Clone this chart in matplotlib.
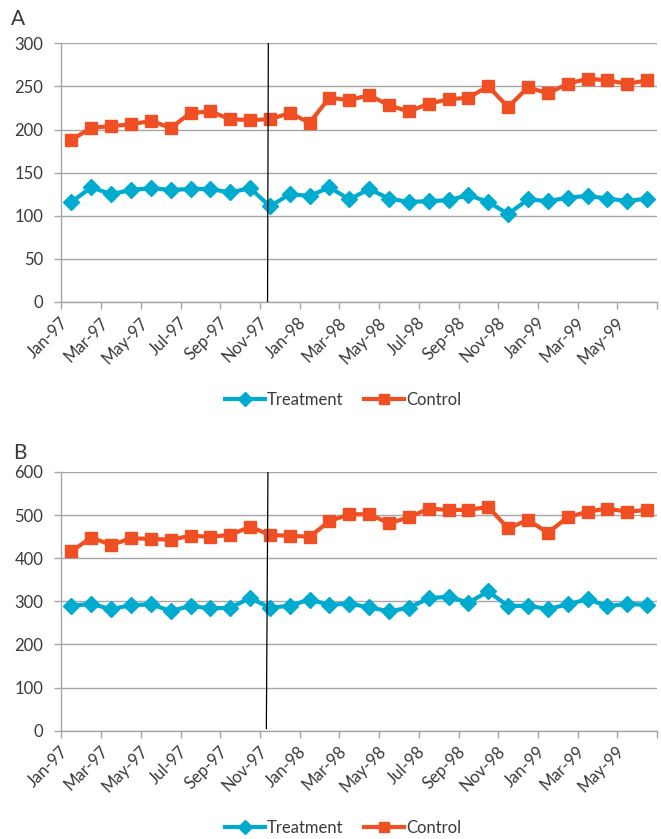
import matplotlib
matplotlib.use("Agg")
import matplotlib.pyplot as plt
import numpy as np

plt.rcParams['font.family'] = ['Lato', 'DejaVu Sans']

months = ["Jan-97", "Feb-97", "Mar-97", "Apr-97", "May-97", "Jun-97", "Jul-97", "Aug-97",
          "Sep-97", "Oct-97", "Nov-97", "Dec-97", "Jan-98", "Feb-98", "Mar-98", "Apr-98",
          "May-98", "Jun-98", "Jul-98", "Aug-98", "Sep-98", "Oct-98", "Nov-98", "Dec-98",
          "Jan-99", "Feb-99", "Mar-99", "Apr-99", "May-99", "Jun-99"]

treatment_a = [116, 133, 125, 130, 132, 130, 131, 131, 127, 132, 111, 125, 123, 133, 119,
               131, 120, 116, 117, 118, 124, 116, 102, 119, 117, 121, 123, 120, 117, 120]
control_a = [188, 202, 204, 206, 210, 202, 219, 221, 212, 211, 212, 219, 208, 237, 234,
             240, 228, 221, 230, 235, 237, 250, 226, 249, 242, 253, 259, 257, 253, 257]

treatment_b = [290, 294, 282, 291, 293, 278, 289, 284, 285, 308, 285, 290, 304, 292, 295,
               286, 277, 285, 307, 311, 297, 323, 289, 290, 282, 293, 305, 289, 294, 292]
control_b = [416, 448, 431, 446, 445, 443, 452, 450, 454, 473, 454, 452, 450, 486, 502,
             502, 481, 495, 515, 512, 512, 519, 469, 489, 459, 495, 508, 515, 508, 512]

panels = [
    ("A", treatment_a, control_a, 300, 50, (10.42, 10.38), (0, 300)),
    ("B", treatment_b, control_b, 600, 100, (10.40, 10.32), (5, 600)),
]

TEAL = "#00ABD0"
ORANGE = "#F04E23"
GRID = "#A6A6A6"
TEXT = "#3A3A3A"
FS = 12

W, H = 661, 839
fig = plt.figure(figsize=(W / 100, H / 100), dpi=100)

ax_boxes = [(61.5, 43.3, 657, 302), (61.5, 472, 657, 730.7)]
legend_y = [400, 828]
letter_pos = [(11, 19), (13, 453)]

x = np.arange(len(months)) + 0.5

for (name, treat, ctrl, ymax, ystep, vline_x, vline_y), box, ly, lp in zip(
        panels, ax_boxes, legend_y, letter_pos):
    l, t, r, b = box
    ax = fig.add_axes([l / W, 1 - b / H, (r - l) / W, (b - t) / H])
    ax.set_xlim(0, len(months))
    ax.set_ylim(0, ymax)

    ax.plot(x, treat, color=TEAL, lw=3, marker="D", ms=8.5, mec=TEAL, mfc=TEAL,
            label="Treatment", zorder=3, solid_joinstyle="round")
    ax.plot(x, ctrl, color=ORANGE, lw=3, marker="s", ms=9, mec=ORANGE, mfc=ORANGE,
            label="Control", zorder=3, solid_joinstyle="round")

    # intervention marker
    ax.plot([vline_x[0], vline_x[1]], [vline_y[1], vline_y[0]], color="black", lw=0.9,
            zorder=4)

    ax.set_yticks(np.arange(0, ymax + 1, ystep))
    ax.yaxis.grid(True, color=GRID, lw=1)
    ax.set_axisbelow(True)

    ax.set_xticks(np.arange(0, len(months) + 1, 2))
    ax.set_xticklabels([])
    ax.set_xticks(x[::2], minor=True)
    ax.set_xticklabels(months[::2], minor=True, rotation=45, ha="right", va="top",
                       fontsize=FS, color=TEXT)
    ax.tick_params(axis="x", which="minor", length=0, pad=9)
    ax.tick_params(axis="x", which="major", length=5, color=GRID, width=1)
    ax.tick_params(axis="y", length=5, color=GRID, width=1, labelsize=FS,
                   labelcolor=TEXT, pad=8)

    for s in ("top", "right"):
        ax.spines[s].set_visible(False)
    for s in ("left", "bottom"):
        ax.spines[s].set_color(GRID)
        ax.spines[s].set_linewidth(1)

    fig.text(lp[0] / W, 1 - lp[1] / H, name, fontsize=15, color=TEXT,
             ha="left", va="center")

    handles, labels = ax.get_legend_handles_labels()
    fig.legend(handles, labels, loc="center", bbox_to_anchor=(343 / W, 1 - ly / H),
               ncol=2, frameon=False, fontsize=FS, handlelength=2.4, columnspacing=1.2,
               handletextpad=0.15, labelcolor=TEXT, markerscale=0.8)

fig.savefig("out.png", dpi=100)
